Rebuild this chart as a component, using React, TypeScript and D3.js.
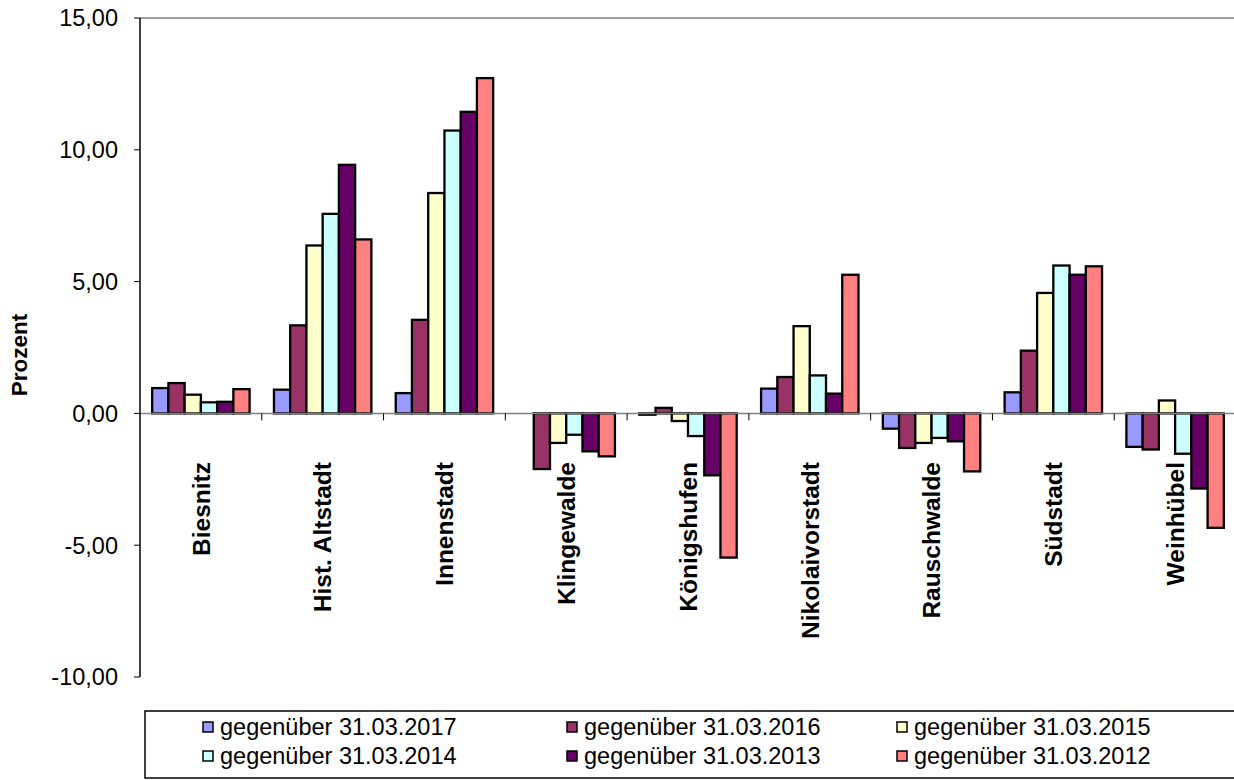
import { useEffect } from 'react';
import { scaleBand, scaleLinear } from 'd3';

const categories = [
  'Biesnitz',
  'Hist. Altstadt',
  'Innenstadt',
  'Klingewalde',
  'Königshufen',
  'Nikolaivorstadt',
  'Rauschwalde',
  'Südstadt',
  'Weinhübel',
];

const seriesNames = [
  'gegenüber 31.03.2017',
  'gegenüber 31.03.2016',
  'gegenüber 31.03.2015',
  'gegenüber 31.03.2014',
  'gegenüber 31.03.2013',
  'gegenüber 31.03.2012',
];

const seriesColors = ['#9999ff', '#993366', '#ffffcc', '#ccffff', '#660066', '#ff8080'];

// one array per series, in category order
const v2017 = [0.96, 0.9, 0.77, 0.0, -0.05, 0.94, -0.58, 0.8, -1.27];
const v2016 = [1.15, 3.34, 3.55, -2.11, 0.21, 1.38, -1.31, 2.38, -1.37];
const v2015 = [0.71, 6.37, 8.36, -1.12, -0.29, 3.31, -1.12, 4.57, 0.49];
const v2014 = [0.42, 7.57, 10.73, -0.81, -0.86, 1.44, -0.93, 5.61, -1.53];
const v2013 = [0.44, 9.43, 11.44, -1.44, -2.35, 0.75, -1.06, 5.26, -2.85];
const v2012 = [0.92, 6.6, 12.72, -1.63, -5.47, 5.26, -2.2, 5.58, -4.34];

const seriesValues = [v2017, v2016, v2015, v2014, v2013, v2012];

const yTicks = [15, 10, 5, 0, -5, -10];

const W = 1234;
const H = 780;
const plot = { left: 140, right: 1236, top: 18, bottom: 677 };

const fmt = (v: number) => v.toFixed(2).replace('.', ',');

export default function App() {
  useEffect(() => {
    document.body.style.margin = '0';
  }, []);

  const y = scaleLinear().domain([-10, 15]).range([plot.bottom, plot.top]);
  const x0 = scaleBand<string>().domain(categories).range([plot.left, plot.right]).padding(0);
  const x1 = scaleBand<number>()
    .domain(seriesNames.map((_, i) => i))
    .range([0, x0.bandwidth()])
    .paddingInner(0)
    .paddingOuter(0.75);

  const zeroY = y(0);
  const font = 'Arial, "Liberation Sans", sans-serif';

  const legendCols = [203, 567, 897];
  const legendRows = [727, 756];

  return (
    <svg width={W} height={H} style={{ display: 'block', background: '#fff' }} fontFamily={font}>
      {/* plot border top */}
      <line x1={plot.left} x2={W} y1={plot.top} y2={plot.top} stroke="#808080" strokeWidth={1.5} />

      {/* bars */}
      {categories.map((c, ci) => (
        <g key={c} transform={`translate(${x0(c)},0)`}>
          {seriesValues.map((vals, si) => {
            const v = vals[ci];
            const y1 = y(Math.max(0, v));
            const y2 = y(Math.min(0, v));
            return (
              <rect
                key={si}
                x={x1(si)}
                y={y1}
                width={x1.bandwidth()}
                height={Math.max(0, y2 - y1)}
                fill={seriesColors[si]}
                stroke="#000"
                strokeWidth={2.3}
              />
            );
          })}
        </g>
      ))}

      {/* zero line */}
      <line x1={plot.left} x2={W} y1={zeroY} y2={zeroY} stroke="#808080" strokeWidth={1.5} />

      {/* category ticks */}
      {categories.slice(1).map((c) => (
        <line key={c} x1={x0(c)} x2={x0(c)} y1={zeroY} y2={zeroY + 7} stroke="#000" strokeWidth={1} />
      ))}

      {/* category labels */}
      {categories.map((c) => {
        const cx = (x0(c) ?? 0) + x0.bandwidth() / 2;
        return (
          <text
            key={c}
            transform={`translate(${cx},462) rotate(-90)`}
            textAnchor="end"
            dy="0.36em"
            fontSize={24.5}
            fontWeight="bold"
            fill="#000"
          >
            {c}
          </text>
        );
      })}

      {/* y axis */}
      <line x1={plot.left} x2={plot.left} y1={plot.top} y2={plot.bottom} stroke="#000" strokeWidth={1.5} />
      {yTicks.map((t) => (
        <g key={t}>
          <line x1={plot.left - 6} x2={plot.left} y1={y(t)} y2={y(t)} stroke="#000" strokeWidth={1} />
          <text x={118} y={y(t)} dy="0.36em" textAnchor="end" fontSize={23.5} fill="#000">
            {fmt(t)}
          </text>
        </g>
      ))}
      <text transform="translate(19,355) rotate(-90)" textAnchor="middle" dy="0.36em" fontSize={22.5} fontWeight="bold">
        Prozent
      </text>

      {/* legend */}
      <rect x={145} y={711} width={W} height={67} fill="#fff" stroke="#000" strokeWidth={1.5} />
      {seriesNames.map((name, i) => {
        const lx = legendCols[i % 3];
        const ly = legendRows[Math.floor(i / 3)];
        return (
          <g key={name}>
            <rect x={lx} y={ly - 5} width={10} height={10} fill={seriesColors[i]} stroke="#000" strokeWidth={1.5} />
            <text x={lx + 17} y={ly} dy="0.36em" fontSize={23.5} fill="#000">
              {name}
            </text>
          </g>
        );
      })}
    </svg>
  );
}
